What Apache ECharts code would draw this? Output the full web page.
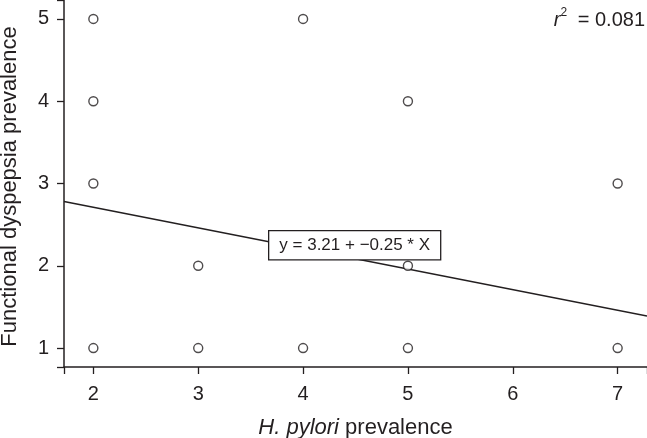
<!DOCTYPE html>
<html>
<head>
<meta charset="utf-8">
<script src="https://cdn.jsdelivr.net/npm/echarts@6/dist/echarts.min.js"></script>
<style>
  html, body { margin: 0; padding: 0; background: #fff; }
  #chart { width: 647px; height: 438px; }
</style>
</head>
<body>
<div id="chart"></div>
<script>
// H. pylori prevalence (x) vs functional dyspepsia prevalence (y)
const pointsX = [2, 2, 2, 2, 3, 3, 4, 4, 5, 5, 5, 7, 7]
const pointsY = [1, 3, 4, 5, 1, 2, 1, 5, 1, 2, 4, 1, 3]

// fitted line y = 3.21 - 0.25x, end points read at the axis limits
const fitX = [1.72, 7.28]
const fitY = [2.78, 1.39]

const xRange = [1.72, 7.28]
const yRange = [0.77, 5.23]

const ink = '#231f20'
const font = '"Liberation Sans", Arial, sans-serif'

const chart = echarts.init(document.getElementById('chart'))

const axisCommon = {
  type: 'value',
  minInterval: 1,
  maxInterval: 1,
  splitLine: { show: false },
  axisLine: { show: true, onZero: false, lineStyle: { color: ink, width: 1.5 } },
  axisTick: { show: true, length: 7, lineStyle: { color: ink, width: 1.3 } },
  nameLocation: 'middle',
}

chart.setOption({
  animation: false,
  grid: { left: 64, top: 0, right: 0, bottom: 71, containLabel: false, outerBoundsMode: 'none' },
  xAxis: {
    ...axisCommon,
    min: xRange[0],
    max: xRange[1],
    name: '{i|H. pylori} prevalence',
    nameGap: 50,
    nameTextStyle: {
      color: ink,
      fontFamily: font,
      fontSize: 22,
      rich: {
        i: { fontStyle: 'italic', fontFamily: font, fontSize: 22, color: ink },
      },
    },
    axisLabel: {
      color: ink,
      fontFamily: font,
      fontSize: 20,
      margin: 17,
      formatter: v => (Number.isInteger(v) ? String(v) : ''),
    },
  },
  yAxis: {
    ...axisCommon,
    min: yRange[0],
    max: yRange[1],
    name: 'Functional dyspepsia prevalence',
    nameGap: 43,
    nameTextStyle: { color: ink, fontFamily: font, fontSize: 22, padding: [0, 6, 0, 0] },
    axisLabel: {
      color: ink,
      fontFamily: font,
      fontSize: 20,
      margin: 15,
      formatter: v => (Number.isInteger(v) ? String(v) : ''),
    },
  },
  series: [
    {
      type: 'line',
      data: fitX.map((x, i) => [x, fitY[i]]),
      symbol: 'none',
      lineStyle: { color: ink, width: 1.5 },
      silent: true,
      z: 1,
    },
    {
      type: 'scatter',
      data: pointsX.map((x, i) => [x, pointsY[i]]),
      symbol: 'circle',
      symbolSize: 9,
      itemStyle: { color: '#fff', borderColor: ink, borderWidth: 1.4 },
      z: 2,
    },
  ],
  graphic: [
    {
      type: 'text',
      right: 2,
      top: 7,
      style: {
        text: '{i|r}{s|2} = 0.081',
        fill: ink,
        font: '20px ' + font,
        rich: {
          i: { fontStyle: 'italic', fontSize: 20, fontFamily: font, fill: ink },
          s: { fontSize: 12, fontFamily: font, verticalAlign: 'top', padding: [0, 5, 14, 0], fill: ink },
        },
      },
    },
    {
      type: 'text',
      left: 268,
      top: 230,
      style: {
        text: 'y = 3.21 + \u22120.25 * X',
        fill: ink,
        font: '17px ' + font,
        backgroundColor: '#fff',
        borderColor: ink,
        borderWidth: 1.3,
        padding: [6, 10, 5, 10],
      },
      z: 10,
    },
  ],
})
</script>
</body>
</html>
